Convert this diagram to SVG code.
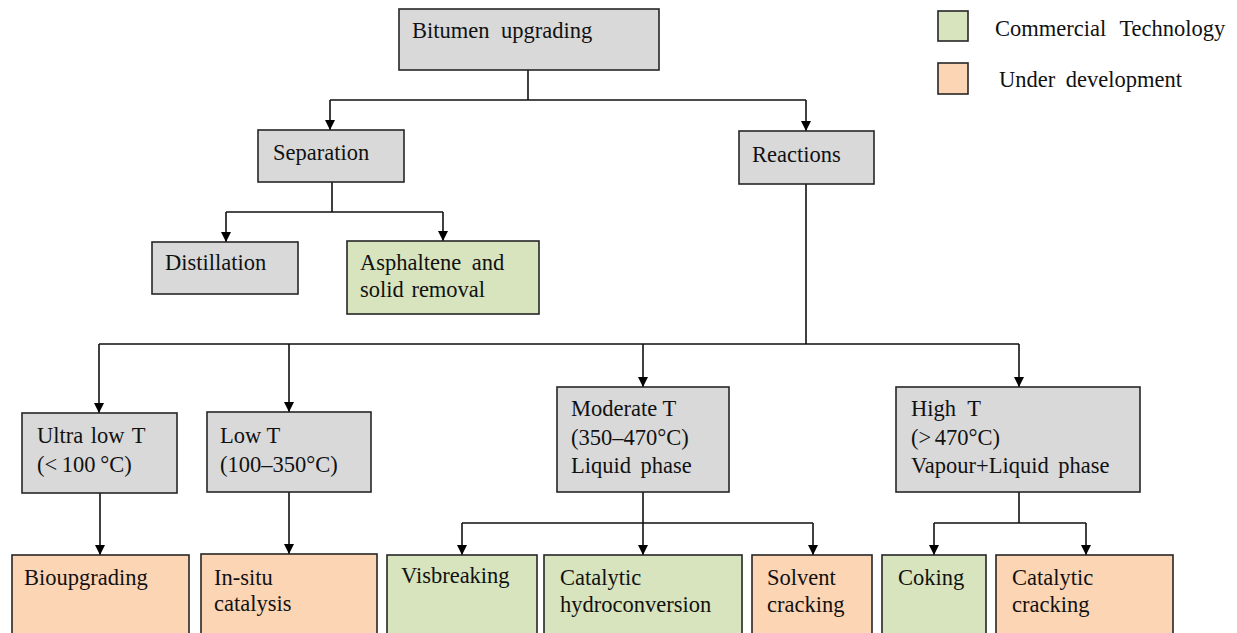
<svg xmlns="http://www.w3.org/2000/svg" width="1237" height="633" viewBox="0 0 1237 633">
<defs>
<marker id="ah" markerWidth="10" markerHeight="10" refX="10" refY="5" orient="auto" markerUnits="userSpaceOnUse">
<path d="M0,0 L10,5 L0,10 Z" fill="#000"/>
</marker>
<style>
.box{stroke:#262626;stroke-width:1.6}
.g{fill:#d9d9d9}
.c{fill:#d7e4bd}
.u{fill:#fcd5b5}
text{font-family:"Liberation Serif","Times New Roman",serif;font-size:22.5px;fill:#111}
.ln{fill:none;stroke:#111;stroke-width:1.6}
</style>
</defs>
<rect width="1237" height="633" fill="#fff"/>
<g id="connectors">
<path class="ln" d="M528,70 V100 M330,100 H806"/>
<path class="ln" d="M330,100 V130" marker-end="url(#ah)"/>
<path class="ln" d="M806,100 V131" marker-end="url(#ah)"/>
<path class="ln" d="M332,182 V212 M226,212 H443"/>
<path class="ln" d="M226,212 V242" marker-end="url(#ah)"/>
<path class="ln" d="M443,212 V241" marker-end="url(#ah)"/>
<path class="ln" d="M806,184 V344 M99,344 H1019"/>
<path class="ln" d="M99,344 V413" marker-end="url(#ah)"/>
<path class="ln" d="M289,344 V412" marker-end="url(#ah)"/>
<path class="ln" d="M643,344 V387" marker-end="url(#ah)"/>
<path class="ln" d="M1019,344 V387" marker-end="url(#ah)"/>
<path class="ln" d="M100,493 V555" marker-end="url(#ah)"/>
<path class="ln" d="M289,492 V554" marker-end="url(#ah)"/>
<path class="ln" d="M643,492 V523 M462,523 H813"/>
<path class="ln" d="M462,523 V555" marker-end="url(#ah)"/>
<path class="ln" d="M643,523 V555" marker-end="url(#ah)"/>
<path class="ln" d="M813,523 V555" marker-end="url(#ah)"/>
<path class="ln" d="M1019,492 V523 M934,523 H1086"/>
<path class="ln" d="M934,523 V555" marker-end="url(#ah)"/>
<path class="ln" d="M1086,523 V555" marker-end="url(#ah)"/>
</g>
<g id="bitumen"><rect class="box g" x="399" y="9" width="260" height="61"/><text x="412" y="38" word-spacing="6">Bitumen upgrading</text></g>
<g id="separation"><rect class="box g" x="258" y="130" width="146" height="52"/><text x="273" y="160">Separation</text></g>
<g id="reactions"><rect class="box g" x="739" y="131" width="135" height="53"/><text x="752" y="162">Reactions</text></g>
<g id="distillation"><rect class="box g" x="152" y="242" width="146" height="52"/><text x="165" y="270">Distillation</text></g>
<g id="asphaltene"><rect class="box c" x="347" y="241" width="192" height="73"/><text x="360" y="270" word-spacing="5">Asphaltene and</text><text x="360" y="297" word-spacing="2">solid removal</text></g>
<g id="ultralow"><rect class="box g" x="22" y="413" width="155" height="80"/><text x="37" y="443" word-spacing="2">Ultra low T</text><text x="37" y="472" word-spacing="-1">(&lt; 100 °C)</text></g>
<g id="lowt"><rect class="box g" x="207" y="412" width="164" height="80"/><text x="220" y="443">Low T</text><text x="220" y="472">(100–350°C)</text></g>
<g id="moderate"><rect class="box g" x="557" y="387" width="172" height="105"/><text x="571" y="416">Moderate T</text><text x="571" y="445">(350–470°C)</text><text x="571" y="473" word-spacing="4">Liquid phase</text></g>
<g id="hight"><rect class="box g" x="896" y="387" width="244" height="105"/><text x="911" y="416" word-spacing="6">High T</text><text x="911" y="445" word-spacing="-2">(&gt; 470°C)</text><text x="911" y="473" word-spacing="4">Vapour+Liquid phase</text></g>
<g id="bioupgrading"><rect class="box u" x="12" y="555" width="177" height="90"/><text x="24" y="585">Bioupgrading</text></g>
<g id="insitu"><rect class="box u" x="201" y="554" width="176" height="90"/><text x="214" y="585">In-situ</text><text x="214" y="611">catalysis</text></g>
<g id="visbreaking"><rect class="box c" x="387" y="555" width="150" height="90"/><text x="401" y="583">Visbreaking</text></g>
<g id="hydroconversion"><rect class="box c" x="544" y="555" width="198" height="90"/><text x="560" y="585">Catalytic</text><text x="560" y="612">hydroconversion</text></g>
<g id="solvent"><rect class="box u" x="752" y="555" width="120" height="90"/><text x="767" y="585">Solvent</text><text x="767" y="612">cracking</text></g>
<g id="coking"><rect class="box c" x="882" y="555" width="104" height="90"/><text x="898" y="585">Coking</text></g>
<g id="catcracking"><rect class="box u" x="996" y="555" width="177" height="90"/><text x="1012" y="585">Catalytic</text><text x="1012" y="612">cracking</text></g>
<g id="legend">
<rect class="box c" x="938" y="11" width="30" height="30"/><text x="995" y="36" word-spacing="8">Commercial Technology</text>
<rect class="box u" x="938" y="63" width="30" height="31"/><text x="999" y="87" word-spacing="5">Under development</text>
</g>
</svg>
